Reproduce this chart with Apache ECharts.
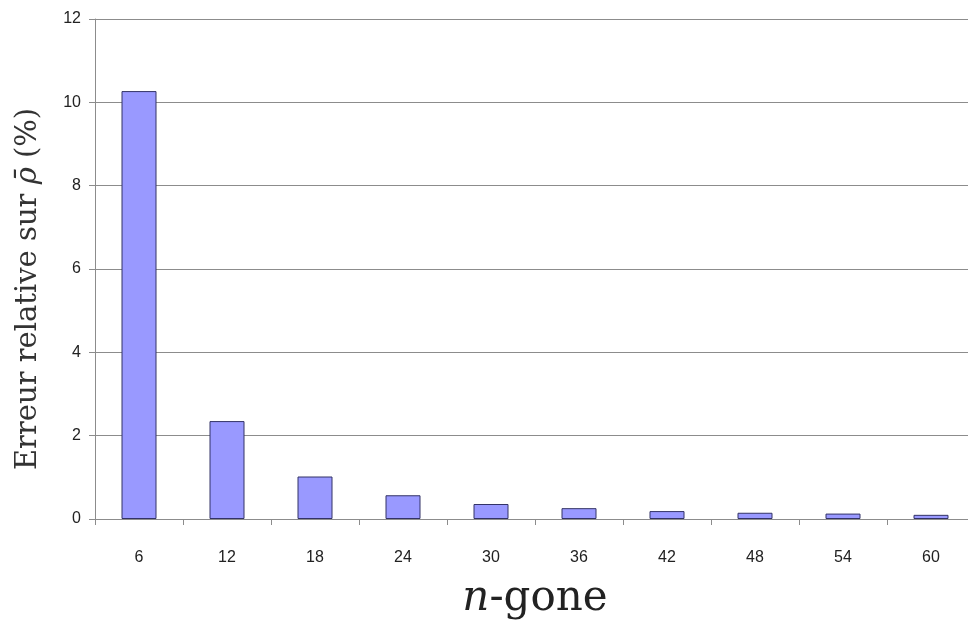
<!DOCTYPE html>
<html>
<head>
<meta charset="utf-8">
<script src="https://cdn.jsdelivr.net/npm/echarts@6/dist/echarts.min.js"></script>
<style>html,body{margin:0;padding:0;background:#fff;}#c{width:968px;height:623px;}</style>
</head>
<body>
<div id="c"></div>
<script>
const categories = ['6','12','18','24','30','36','42','48','54','60'];
const values = [10.27, 2.35, 1.02, 0.57, 0.36, 0.26, 0.19, 0.15, 0.13, 0.1];
const yTicks = {min: 0, max: 12, interval: 2};

const chart = echarts.init(document.getElementById('c'));
chart.setOption({
  animation: false,
  backgroundColor: '#ffffff',
  grid: {left: 95, top: 19, width: 880, height: 500, containLabel: false, outerBoundsMode: 'none'},
  xAxis: {
    type: 'category',
    data: categories,
    axisLine: {lineStyle: {color: '#8c8c8c', width: 1}},
    axisTick: {show: true, alignWithLabel: false, length: 6, lineStyle: {color: '#8c8c8c'}},
    axisLabel: {color: '#222', fontSize: 16, fontFamily: 'Liberation Sans, Arial', margin: 31},
    name: '{i|n}{r|-gone}',
    nameLocation: 'middle',
    nameGap: 59,
    nameTextStyle: {
      rich: {
        i: {fontFamily: 'DejaVu Serif', fontStyle: 'italic', fontSize: 42, color: '#222'},
        r: {fontFamily: 'DejaVu Serif', fontSize: 42, color: '#222'}
      }
    }
  },
  yAxis: {
    type: 'value',
    min: yTicks.min, max: yTicks.max, interval: yTicks.interval,
    axisLine: {show: true, lineStyle: {color: '#8c8c8c', width: 1}},
    axisTick: {show: true, length: 6, lineStyle: {color: '#8c8c8c'}},
    splitLine: {show: true, lineStyle: {color: '#8c8c8c', width: 1}},
    axisLabel: {color: '#222', fontSize: 16, fontFamily: 'Liberation Sans, Arial', margin: 14},
    name: '{r|Erreur relative sur }{i|ρ̄}{r| (%)}',
    nameLocation: 'middle',
    nameRotate: 90,
    nameGap: 52,
    nameTextStyle: {
      padding: [0, 40, 0, 0],
      rich: {
        i: {fontFamily: 'DejaVu Serif', fontStyle: 'italic', fontSize: 29, color: '#333'},
        r: {fontFamily: 'DejaVu Serif', fontSize: 29, color: '#333'}
      }
    }
  },
  series: [{
    type: 'bar',
    data: values,
    barWidth: 35,
    itemStyle: {color: '#9999ff', borderColor: '#333366', borderWidth: 1}
  }]
});
</script>
</body>
</html>
